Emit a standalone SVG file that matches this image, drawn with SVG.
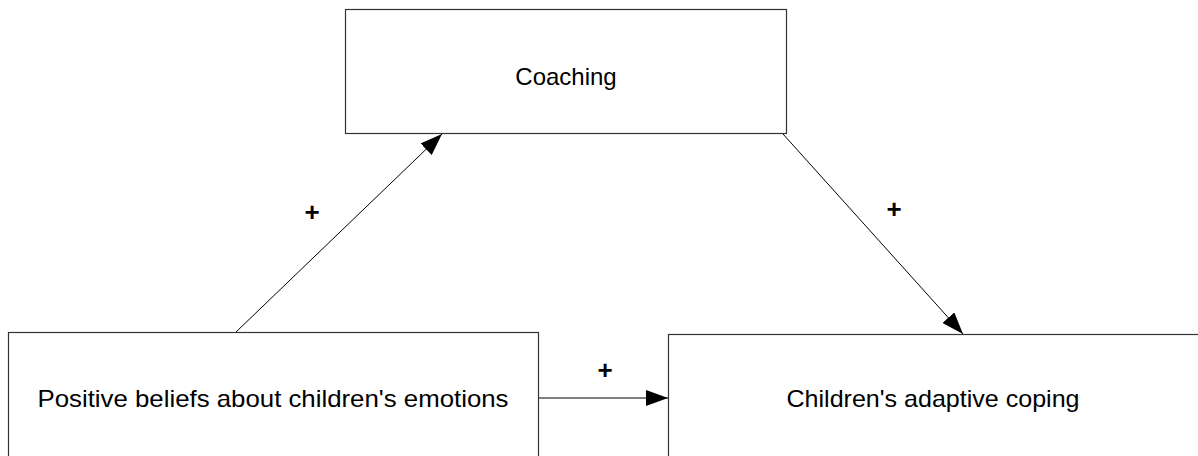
<svg xmlns="http://www.w3.org/2000/svg" width="1198" height="456" viewBox="0 0 1198 456">
<style>
.box{fill:#fff;stroke:#333;stroke-width:1.2}
.t{font-family:"Liberation Sans",Arial,sans-serif;font-size:24px;fill:#000;text-anchor:middle;dominant-baseline:central}
.p{font-family:"Liberation Sans",Arial,sans-serif;font-size:26px;font-weight:bold;fill:#000;text-anchor:middle;dominant-baseline:central}
.c{stroke:#000;stroke-width:1;fill:none;marker-end:url(#ah)}
</style>
<defs>
<marker id="ah" viewBox="0 0 22 16" refX="22" refY="8" markerWidth="22" markerHeight="16" markerUnits="userSpaceOnUse" orient="auto">
<path d="M0,0 L22,8 L0,16 Z" fill="#000"/>
</marker>
</defs>
<rect width="1198" height="456" fill="#fff"/>
<g id="coaching">
<rect class="box" x="345.5" y="9.5" width="441" height="124"/>
<text class="t" x="566" y="76">Coaching</text>
</g>
<g id="beliefs">
<rect class="box" x="8.5" y="332.5" width="530" height="130"/>
<text class="t" x="273" y="398" textLength="471" lengthAdjust="spacingAndGlyphs">Positive beliefs about children's emotions</text>
</g>
<g id="coping">
<rect class="box" x="668.5" y="334.5" width="535" height="130"/>
<text class="t" x="933" y="398" textLength="293" lengthAdjust="spacingAndGlyphs">Children's adaptive coping</text>
</g>
<g id="connectors">
<line class="c" x1="236" y1="332" x2="442" y2="134"/>
<line class="c" x1="783" y1="134" x2="963" y2="334"/>
<line class="c" x1="539" y1="398" x2="668" y2="398"/>
<text class="p" x="312" y="212">+</text>
<text class="p" x="894" y="209">+</text>
<text class="p" x="605" y="370">+</text>
</g>
</svg>
